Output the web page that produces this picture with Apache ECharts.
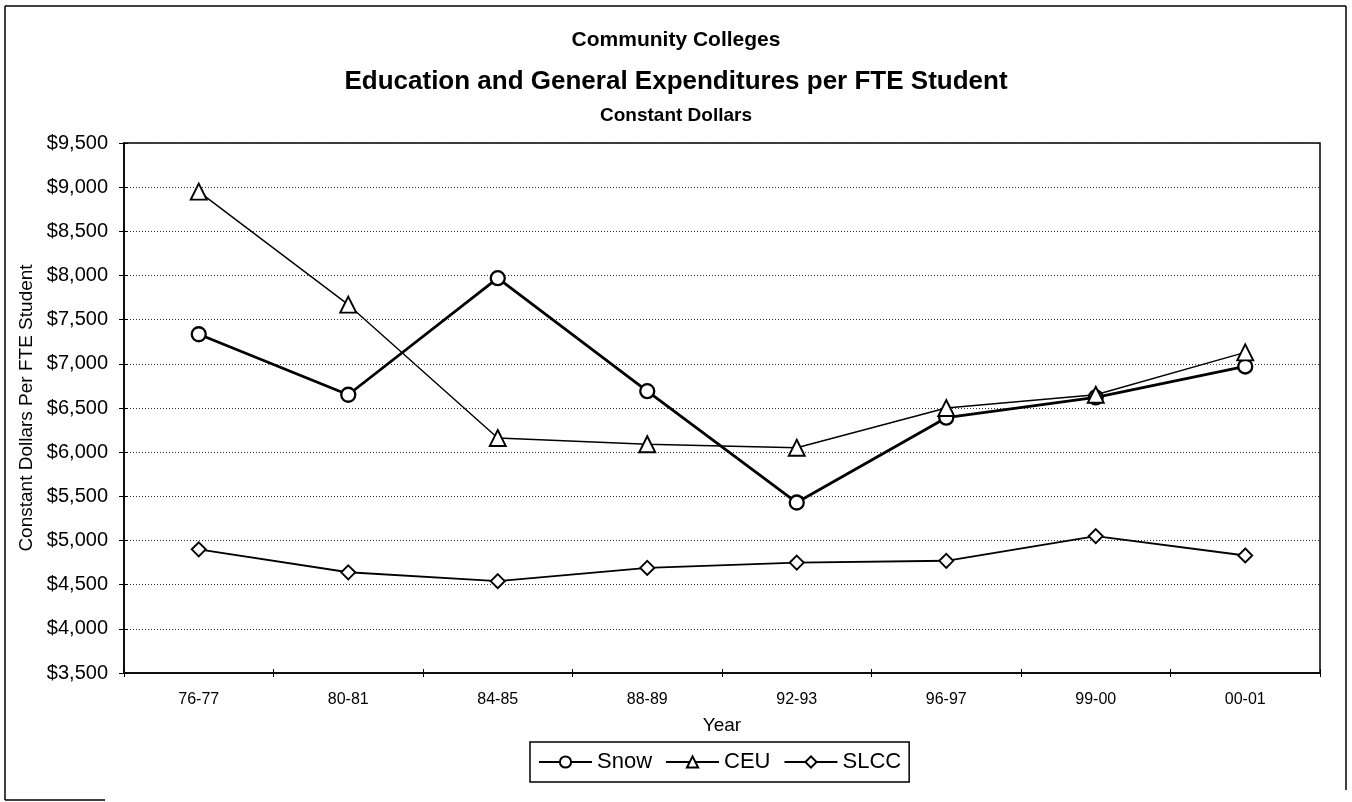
<!DOCTYPE html>
<html>
<head>
<meta charset="utf-8">
<script src="https://cdn.jsdelivr.net/npm/echarts@6/dist/echarts.min.js"></script>
<style>
html,body{margin:0;padding:0;background:#fff;}
#chart{width:1352px;height:802px;}
</style>
</head>
<body>
<div id="chart"></div>
<script>
// ---- data ----
const years = ['76-77','80-81','84-85','88-89','92-93','96-97','99-00','00-01'];
const snow = [7335, 6650, 7970, 6690, 5430, 6390, 6620, 6970];
const ceu  = [8950, 7670, 6160, 6090, 6050, 6500, 6650, 7130];
const slcc = [4900, 4640, 4540, 4690, 4750, 4770, 5050, 4830];
const yMin = 3500, yMax = 9500, yStep = 500;

const SANS = "'Liberation Sans',Arial,Helvetica,sans-serif";

const chart = echarts.init(document.getElementById('chart'), null, {renderer:'canvas'});

function mk(name, data, symbol, size, lw, bw){
  return {
    name, type:'line', data, symbol, symbolSize:size,
    showSymbol:true,
    lineStyle:{color:'#000', width:lw},
    itemStyle:{color:'#fff', borderColor:'#000', borderWidth:bw},
    emphasis:{disabled:true},
    z:3
  };
}

chart.setOption({
  animation:false,
  backgroundColor:'#fff',
  title:[
    {text:'Community Colleges', left:'center', top:25,
     textStyle:{fontFamily:SANS, fontWeight:'bold', fontSize:21, color:'#000'}},
    {text:'Education and General Expenditures per FTE Student', left:'center', top:64,
     textStyle:{fontFamily:SANS, fontWeight:'bold', fontSize:26, color:'#000'}},
    {text:'Constant Dollars', left:'center', top:101,
     textStyle:{fontFamily:SANS, fontWeight:'bold', fontSize:19, color:'#000'}}
  ],
  grid:{left:124, right:32, top:143, bottom:129, show:true, borderColor:'#000', borderWidth:1.5, backgroundColor:'transparent'},
  legend:{
    left:530, top:742,
    data:['Snow','CEU','SLCC'],
    itemWidth:53, itemHeight:14, itemGap:13,
    padding:[9,8,9,8],
    borderColor:'#000', borderWidth:1.5,
    textStyle:{fontFamily:SANS, fontSize:22, color:'#000'},
    selectedMode:false
  },
  xAxis:[{
    type:'category', data:years, boundaryGap:true, position:'bottom',
    name:'Year', nameLocation:'middle', nameGap:43,
    nameTextStyle:{fontFamily:SANS, fontSize:19, color:'#000'},
    axisLine:{lineStyle:{color:'#000', width:1.5}},
    axisTick:{show:true, length:4, lineStyle:{color:'#000'}},
    axisLabel:{fontFamily:SANS, fontSize:16, color:'#000', margin:19},
    splitLine:{show:false}
  },{
    type:'category', data:years, boundaryGap:true, position:'bottom',
    axisLine:{show:false},
    axisTick:{show:true, inside:true, length:4, lineStyle:{color:'#000'}},
    axisLabel:{show:false}, splitLine:{show:false}
  }],
  yAxis:[{
    type:'value', min:yMin, max:yMax, interval:yStep, position:'left',
    name:'Constant Dollars Per FTE Student', nameLocation:'middle', nameGap:57,
    nameTextStyle:{fontFamily:SANS, fontSize:19, color:'#000'},
    axisLine:{show:true, lineStyle:{color:'#000', width:1.5}},
    axisTick:{show:true, length:5, lineStyle:{color:'#000'}},
    axisLabel:{fontFamily:SANS, fontSize:20, color:'#000', margin:16,
      formatter:v=>'$'+v.toLocaleString('en-US')},
    splitLine:{show:true, lineStyle:{color:'#333', width:1, type:[1,2]}}
  },{
    type:'value', min:yMin, max:yMax, interval:yStep, position:'left',
    axisLine:{show:false},
    axisTick:{show:true, inside:true, length:4, lineStyle:{color:'#000'}},
    axisLabel:{show:false}, splitLine:{show:false}
  }],
  series:[
    mk('Snow', snow, 'circle', 14, 2.8, 2.3),
    mk('CEU', ceu, 'triangle', 16, 1.4, 1.9),
    mk('SLCC', slcc, 'diamond', 14, 1.9, 1.9)
  ],
  graphic:[
    {type:'line', shape:{x1:5,y1:6,x2:1346,y2:6}, style:{stroke:'#000', lineWidth:1.5}},
    {type:'line', shape:{x1:5,y1:6,x2:5,y2:800}, style:{stroke:'#000', lineWidth:1.5}},
    {type:'line', shape:{x1:1346,y1:6,x2:1346,y2:790}, style:{stroke:'#000', lineWidth:1.5}},
    {type:'line', shape:{x1:5,y1:800,x2:105,y2:800}, style:{stroke:'#000', lineWidth:1.5}}
  ]
});
</script>
</body>
</html>
